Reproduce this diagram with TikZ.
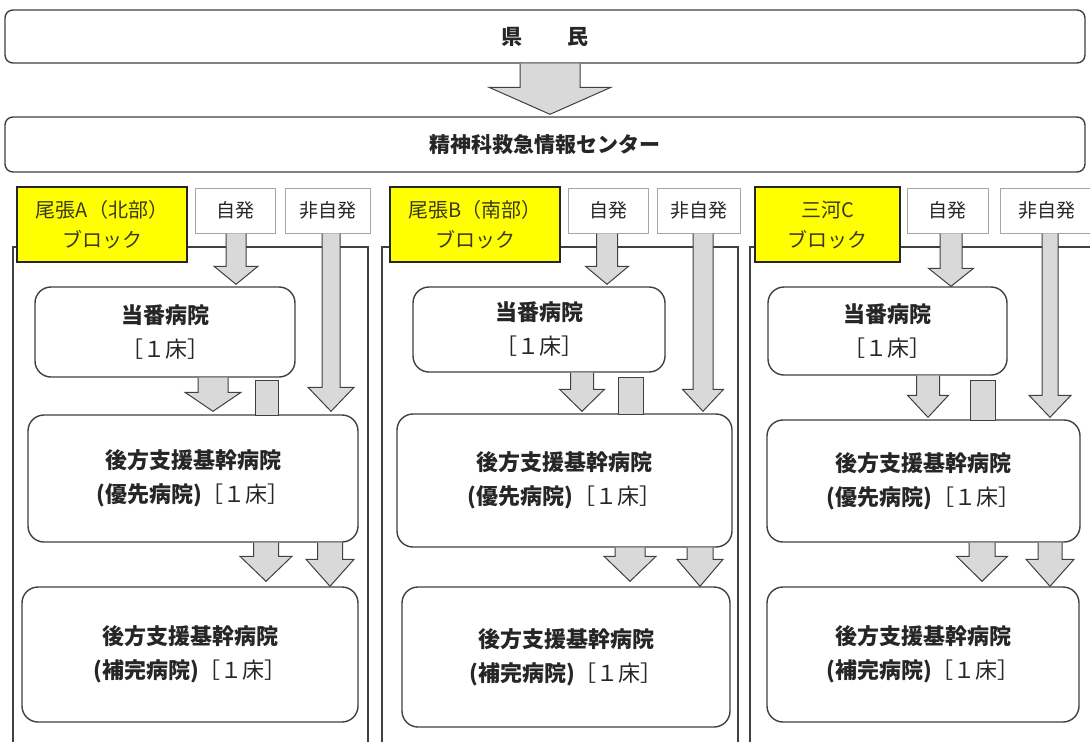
\documentclass[tikz,border=0pt]{standalone}
\usepackage{fontspec}
\setmainfont{Noto Sans CJK JP}
\usetikzlibrary{calc}
\definecolor{ln}{HTML}{404040}
\definecolor{afill}{HTML}{D9D9D9}
\definecolor{yelfill}{HTML}{FFFF00}
\definecolor{txt}{HTML}{262626}
\definecolor{ytxt}{HTML}{3A3A20}
\definecolor{hb}{HTML}{A6A6A6}
\tikzset{
  bigbox/.style={draw=ln, line width=1.4pt, rounded corners=8pt, fill=white,
    minimum width=1080pt, minimum height=53pt, inner sep=0pt, text=txt,
    font=\fontsize{21}{24}\selectfont\bfseries},
  hosp/.style={draw=ln, line width=1.4pt, rounded corners=16pt, fill=white,
    inner sep=0pt, align=center, text=txt, font=\fontsize{22}{34}\selectfont},
  hdr/.style={draw=hb, line width=1pt, fill=white, minimum height=45pt,
    inner sep=0pt, text=txt, font=\fontsize{19}{20}\selectfont},
  ybox/.style={draw=black!85, line width=1.3pt, fill=yelfill, minimum height=75pt,
    inner sep=0pt, align=center, text=ytxt, font=\fontsize{20}{30}\selectfont},
  blk/.style={draw=ln, line width=1pt, fill=afill, line join=miter},
  framel/.style={draw=ln, line width=1.1pt}
}
% #1 cx, #2 from node, #3 to node, #4 shaft half width, #5 head half width, #6 head length, #7 gap above target
\newcommand\barrow[7]{%
  \draw[blk] let \p1=(#2.south), \p2=(#3.north) in
    ({(#1-#4)*1pt},\y1) -- ({(#1-#4)*1pt},{\y2+(#6+#7)*1pt})
    -- ({(#1-#5)*1pt},{\y2+(#6+#7)*1pt}) -- ({#1*1pt},{\y2+#7*1pt})
    -- ({(#1+#5)*1pt},{\y2+(#6+#7)*1pt}) -- ({(#1+#4)*1pt},{\y2+(#6+#7)*1pt})
    -- ({(#1+#4)*1pt},\y1);}
\newcommand\bedtxt{［１床］}
\begin{document}
\begin{tikzpicture}[x=1pt,y=-1pt]
\useasboundingbox (0,0) rectangle (1090,742);
\fill[white] (0,0) rectangle (1090,742);
% top boxes
\node[bigbox] (top) at (545,36.5) {県\hspace{46pt}民};
\node[bigbox, minimum height=55pt] (ctr) at (545,144.5) {精神科救急情報センター};
\barrow{550}{top}{ctr}{30}{61}{27}{2}
% block frames
\draw[framel] (13,742) -- (13,247) -- (368,247) -- (368,742);
\draw[framel] (382,742) -- (382,247) -- (738,247) -- (738,742);
\draw[framel] (750,742) -- (750,247) -- (1095,247);
% header boxes
\node[hdr, minimum width=80pt] (jA) at (235,210.5) {自発};
\node[hdr, minimum width=85pt] (nA) at (327.5,210.5) {非自発};
\node[hdr, minimum width=80pt] (jB) at (608,210.5) {自発};
\node[hdr, minimum width=83pt] (nB) at (698.5,210.5) {非自発};
\node[hdr, minimum width=81pt] (jC) at (947.5,210.5) {自発};
\node[hdr, minimum width=93pt] (nC) at (1046.5,210.5) {非自発};
\node[ybox, minimum width=170pt] (yA) at (102,224.5) {尾張A（北部）\\ブロック};
\node[ybox, minimum width=170pt] (yB) at (475,224.5) {尾張B（南部）\\ブロック};
\node[ybox, minimum width=145pt] (yC) at (827.5,224.5) {三河C\\ブロック};
% hospitals A
\node[hosp, minimum width=260pt, minimum height=90pt] (tA) at (165,332) {\textbf{当番病院}\\\bedtxt};
\node[hosp, minimum width=330pt, minimum height=127pt] (pA) at (193,478.5) {\textbf{後方支援基幹病院}\\\textbf{(優先病院)}\bedtxt};
\node[hosp, minimum width=336pt, minimum height=135pt] (cA) at (190,654.5) {\textbf{後方支援基幹病院}\\\textbf{(補完病院)}\bedtxt};
% hospitals B
\node[hosp, minimum width=252pt, minimum height=85pt] (tB) at (539,329.5) {\textbf{当番病院}\\\bedtxt};
\node[hosp, minimum width=335pt, minimum height=133pt] (pB) at (564.5,480.5) {\textbf{後方支援基幹病院}\\\textbf{(優先病院)}\bedtxt};
\node[hosp, minimum width=328pt, minimum height=140pt] (cB) at (566,657) {\textbf{後方支援基幹病院}\\\textbf{(補完病院)}\bedtxt};
% hospitals C
\node[hosp, minimum width=239pt, minimum height=88pt] (tC) at (887.5,331) {\textbf{当番病院}\\\bedtxt};
\node[hosp, minimum width=313pt, minimum height=122pt] (pC) at (923.5,481) {\textbf{後方支援基幹病院}\\\textbf{(優先病院)}\bedtxt};
\node[hosp, minimum width=312pt, minimum height=135pt] (cC) at (923,654.5) {\textbf{後方支援基幹病院}\\\textbf{(補完病院)}\bedtxt};
% arrows A
\barrow{236}{jA}{tA}{10}{22}{18}{2}
\barrow{213}{tA}{pA}{15}{28}{19}{3}
\barrow{331}{nA}{pA}{9}{23}{24}{3}
\barrow{266}{pA}{cA}{12.5}{26}{25}{5}
\barrow{330}{pA}{cA}{12.5}{24}{27}{0}
\draw[blk] (255,380) rectangle (278,415);
% arrows B
\barrow{607}{jB}{tB}{10.5}{21.5}{18}{2}
\barrow{582}{tB}{pB}{11.5}{22.5}{22}{2}
\barrow{703}{nB}{pB}{10}{20.5}{22}{2}
\barrow{630}{pB}{cB}{15}{26}{25}{5}
\barrow{700}{pB}{cB}{13}{23}{27}{0}
\draw[blk] (618,377) rectangle (643,414);
% arrows C
\barrow{951}{jC}{tC}{11}{22.5}{18}{0}
\barrow{928}{tC}{pC}{11.5}{20.5}{22}{2}
\barrow{1050}{nC}{pC}{8}{21}{22}{2}
\barrow{982}{pC}{cC}{13}{25.5}{25}{5}
\barrow{1050}{pC}{cC}{12}{24}{27}{0}
\draw[blk] (970,380) rectangle (995,420);
\end{tikzpicture}
\end{document}
